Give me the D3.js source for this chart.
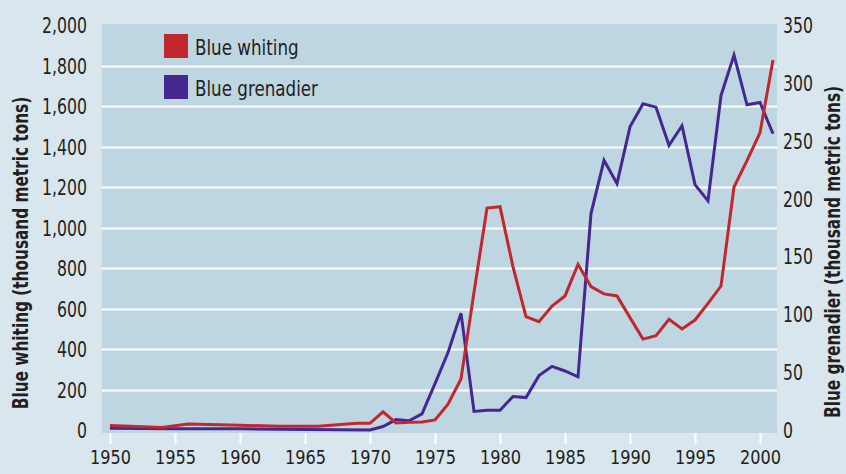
<!DOCTYPE html>
<html>
<head>
<meta charset="utf-8">
<script src="https://cdn.jsdelivr.net/npm/d3@7"></script>
<style>
  html, body { margin: 0; padding: 0; background: #d9e6ee; }
  svg { display: block; }
  text { font-family: "DejaVu Sans Condensed", "Liberation Sans Narrow", "Roboto", sans-serif; fill: #231f20; }
</style>
</head>
<body>
<div id="chart"></div>
<script>
// Blue whiting catch (thousand metric tons), left axis
const whitingYears = [1950, 1954, 1956, 1960, 1963, 1966, 1969, 1970, 1971, 1972, 1973, 1974, 1975, 1976, 1977, 1978, 1979, 1980, 1981, 1982, 1983, 1984, 1985, 1986, 1987, 1988, 1989, 1990, 1991, 1992, 1993, 1994, 1995, 1996, 1997, 1998, 1999, 2000, 2001];
const whitingValues = [22, 12, 30, 24, 18, 18, 33, 33, 90, 35, 38, 40, 50, 128, 252, 680, 1096, 1103, 806, 560, 535, 612, 662, 818, 708, 672, 662, 555, 449, 466, 547, 499, 543, 625, 711, 1200, 1330, 1468, 1827];

// Blue grenadier catch (thousand metric tons), right axis
const grenadierYears = [1950, 1955, 1960, 1965, 1970, 1971, 1972, 1973, 1974, 1975, 1976, 1977, 1978, 1979, 1980, 1981, 1982, 1983, 1984, 1985, 1986, 1987, 1988, 1989, 1990, 1991, 1992, 1993, 1994, 1995, 1996, 1997, 1998, 1999, 2000, 2001];
const grenadierValues = [1.5, 1, 1, 0.5, 0, 3, 9, 8, 14, 40, 67, 101, 16, 17, 17, 29, 28, 47, 55, 51, 46, 187, 233, 213, 262, 282, 279, 246, 263, 212, 198, 289, 324, 281, 283, 256];

const leftTicks = [0, 200, 400, 600, 800, 1000, 1200, 1400, 1600, 1800, 2000];
const rightTicks = [0, 50, 100, 150, 200, 250, 300, 350];
const yearTicks = [1950, 1955, 1960, 1965, 1970, 1975, 1980, 1985, 1990, 1995, 2000];

const seriesNames = ['Blue whiting', 'Blue grenadier'];
const seriesColors = ['#c1272d', '#45288f'];

const width = 846, height = 474;
const plot = { left: 102, right: 777, top: 24, bottom: 433 };

// squeeze a text selection horizontally to mimic a condensed face
function condense(sel, k) {
  sel.each(function () {
    const len = this.getComputedTextLength();
    d3.select(this)
      .attr('textLength', len * k)
      .attr('lengthAdjust', 'spacingAndGlyphs');
  });
}

const svg = d3.select('#chart')
  .append('svg')
  .attr('width', width)
  .attr('height', height);

svg.append('rect')
  .attr('width', width)
  .attr('height', height)
  .attr('fill', '#d9e6ee');

// Scales
const x = d3.scaleLinear().domain([1950, 2000]).range([110, 760]);
const yLeft = d3.scaleLinear().domain([0, 2000]).range([430, 25]);
const yRight = d3.scaleLinear().domain([0, 350]).range([430, 25]);

// Plot background
svg.append('rect')
  .attr('x', plot.left)
  .attr('y', plot.top)
  .attr('width', plot.right - plot.left)
  .attr('height', plot.bottom - plot.top)
  .attr('fill', '#bed6e2');

// Horizontal gridlines
svg.append('g')
  .selectAll('line')
  .data(leftTicks.filter(d => d > 0 && d < 2000))
  .join('line')
    .attr('x1', plot.left)
    .attr('x2', plot.right)
    .attr('y1', d => Math.round(yLeft(d)) + 0.5)
    .attr('y2', d => Math.round(yLeft(d)) + 0.5)
    .attr('stroke', '#ffffff')
    .attr('stroke-width', 2);

// Left axis
const leftAxis = svg.append('g')
  .attr('transform', `translate(${plot.left},0)`)
  .call(d3.axisLeft(yLeft).tickValues(leftTicks).tickSize(0).tickPadding(15).tickFormat(d3.format(',')));
leftAxis.select('.domain').remove();
leftAxis.selectAll('text').style('font-size', '21px').attr('dy', '0.36em').call(condense, 0.83);

// Right axis
const rightAxis = svg.append('g')
  .attr('transform', `translate(${plot.right},0)`)
  .call(d3.axisRight(yRight).tickValues(rightTicks).tickSize(0).tickPadding(6));
rightAxis.select('.domain').remove();
rightAxis.selectAll('text').style('font-size', '21px').attr('dy', '0.36em').call(condense, 0.83);

// Bottom axis
const bottomAxis = svg.append('g')
  .attr('transform', `translate(0,${plot.bottom})`)
  .call(d3.axisBottom(x).tickValues(yearTicks).tickSize(11).tickPadding(6).tickFormat(d3.format('d')));
bottomAxis.select('.domain').remove();
bottomAxis.selectAll('line').attr('stroke', '#ffffff').attr('stroke-width', 2);
bottomAxis.selectAll('text').style('font-size', '19.5px').call(condense, 0.92);

// Axis titles
svg.append('text')
  .attr('transform', `translate(28,253) rotate(-90)`)
  .attr('text-anchor', 'middle')
  .style('font-size', '21px')
  .style('font-weight', 'bold')
  .text('Blue whiting (thousand metric tons)')
  .call(condense, 0.81);

svg.append('text')
  .attr('transform', `translate(840,252) rotate(-90)`)
  .attr('text-anchor', 'middle')
  .style('font-size', '21px')
  .style('font-weight', 'bold')
  .text('Blue grenadier (thousand metric tons)')
  .call(condense, 0.81);

// Lines
const whitingData = whitingYears.map((yr, i) => ({ year: yr, value: whitingValues[i] }));
const grenadierData = grenadierYears.map((yr, i) => ({ year: yr, value: grenadierValues[i] }));

svg.append('path')
  .datum(grenadierData)
  .attr('fill', 'none')
  .attr('stroke', seriesColors[1])
  .attr('stroke-width', 3)
  .attr('stroke-linejoin', 'miter')
  .attr('d', d3.line().x(d => x(d.year)).y(d => yRight(d.value)));

svg.append('path')
  .datum(whitingData)
  .attr('fill', 'none')
  .attr('stroke', seriesColors[0])
  .attr('stroke-width', 3)
  .attr('stroke-linejoin', 'miter')
  .attr('d', d3.line().x(d => x(d.year)).y(d => yLeft(d.value)));

// Legend
const legend = svg.append('g')
  .selectAll('g')
  .data(seriesNames)
  .join('g')
    .attr('transform', (d, i) => `translate(164,${34 + i * 41})`);

legend.append('rect')
  .attr('width', 24)
  .attr('height', 24)
  .attr('fill', (d, i) => seriesColors[i]);

legend.append('text')
  .attr('x', 31)
  .attr('y', 21)
  .style('font-size', '22px')
  .text(d => d)
  .call(condense, 0.845);
</script>
</body>
</html>
